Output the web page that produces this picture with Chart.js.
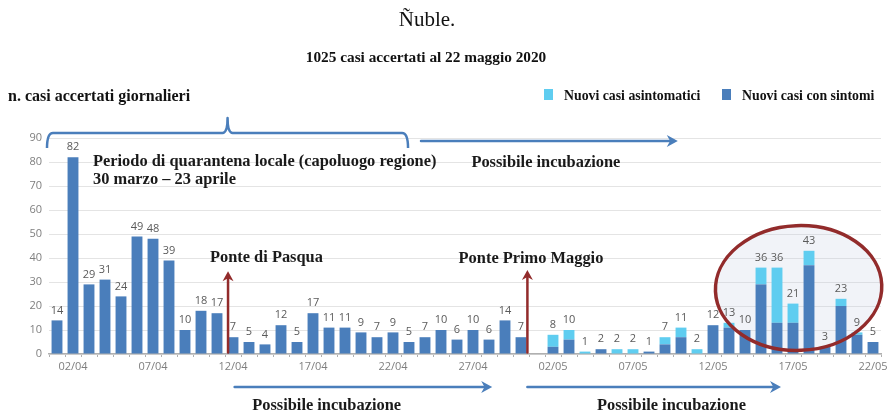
<!DOCTYPE html>
<html>
<head>
<meta charset="utf-8">
<script src="https://cdn.jsdelivr.net/npm/chart.js@4/dist/chart.umd.min.js"></script>
<style>
  html, body { margin: 0; padding: 0; background: #ffffff; }
  #wrap { position: relative; width: 891px; height: 413px; }
</style>
</head>
<body>
<div id="wrap"><canvas id="c" width="891" height="413"></canvas></div>
<script>
// Daily confirmed cases, Ñuble region, 1 April - 22 May 2020
const giorni = [
  '01/04','02/04','03/04','04/04','05/04','06/04','07/04','08/04','09/04','10/04',
  '11/04','12/04','13/04','14/04','15/04','16/04','17/04','18/04','19/04','20/04',
  '21/04','22/04','23/04','24/04','25/04','26/04','27/04','28/04','29/04','30/04',
  '01/05','02/05','03/05','04/05','05/05','06/05','07/05','08/05','09/05','10/05',
  '11/05','12/05','13/05','14/05','15/05','16/05','17/05','18/05','19/05','20/05',
  '21/05','22/05'
];
const conSintomi = [
  14, 82, 29, 31, 24, 49, 48, 39, 10, 18,
  17,  7,  5,  4, 12,  5, 17, 11, 11,  9,
   7,  9,  5,  7, 10,  6, 10,  6, 14,  7,
   0,  3,  6,  0,  2,  0,  0,  1,  4,  7,
   0, 12, 11, 10, 29, 13, 13, 37,  3, 20,
   8,  5
];
const asintomatici = [
   0,  0,  0,  0,  0,  0,  0,  0,  0,  0,
   0,  0,  0,  0,  0,  0,  0,  0,  0,  0,
   0,  0,  0,  0,  0,  0,  0,  0,  0,  0,
   0,  5,  4,  1,  0,  2,  2,  0,  3,  4,
   2,  0,  2,  0,  7, 23,  8,  6,  0,  3,
   1,  0
];
const yTicks = [0, 10, 20, 30, 40, 50, 60, 70, 80, 90];

const BLU = '#4a7ebb';
const AZZURRO = '#5fcdf0';
const ROSSO = '#922b2b';
const SERIF = '"Liberation Serif", "DejaVu Serif", serif';
const SANS = '"Open Sans", "Liberation Sans", sans-serif';

function freccia(ctx, x1, y1, x2, y2, colore, spessore, testa) {
  const a = Math.atan2(y2 - y1, x2 - x1);
  ctx.save();
  ctx.strokeStyle = colore;
  ctx.fillStyle = colore;
  ctx.lineWidth = spessore;
  ctx.lineCap = 'round';
  ctx.beginPath();
  ctx.moveTo(x1, y1);
  ctx.lineTo(x2 - Math.cos(a) * testa * 0.6, y2 - Math.sin(a) * testa * 0.6);
  ctx.stroke();
  ctx.beginPath();
  ctx.moveTo(x2, y2);
  ctx.lineTo(x2 - Math.cos(a) * testa + Math.sin(a) * testa * 0.55,
             y2 - Math.sin(a) * testa - Math.cos(a) * testa * 0.55);
  ctx.lineTo(x2 - Math.cos(a) * testa * 0.7, y2 - Math.sin(a) * testa * 0.7);
  ctx.lineTo(x2 - Math.cos(a) * testa - Math.sin(a) * testa * 0.55,
             y2 - Math.sin(a) * testa + Math.cos(a) * testa * 0.55);
  ctx.closePath();
  ctx.fill();
  ctx.restore();
}

function testo(ctx, s, x, y, font, colore, align) {
  ctx.save();
  ctx.font = font;
  ctx.fillStyle = colore || '#1a1a1a';
  ctx.textAlign = align || 'left';
  ctx.textBaseline = 'middle';
  ctx.fillText(s, x, y);
  ctx.restore();
}

// Highlight ellipse around the mid-May peak
function ellisse(chart, riempi) {
  const xs = chart.scales.x, ys = chart.scales.y, ctx = chart.ctx;
  const passo = xs.getPixelForValue(1) - xs.getPixelForValue(0);
  const cx = xs.getPixelForValue(46.35), cy = ys.getPixelForValue(27.5);
  const rx = passo * 5.2, ry = ys.getPixelForValue(0) - ys.getPixelForValue(26);
  ctx.save();
  ctx.beginPath();
  ctx.ellipse(cx, cy, rx, ry, -0.04, 0, Math.PI * 2);
  if (riempi) {
    ctx.fillStyle = 'rgba(190,200,222,0.22)';
    ctx.fill();
  } else {
    ctx.strokeStyle = ROSSO;
    ctx.lineWidth = 3.5;
    ctx.stroke();
  }
  ctx.restore();
}

const decorazioni = {
  id: 'decorazioni',
  beforeDatasetsDraw(chart) {
    ellisse(chart, true);
  },
  afterDatasetsDraw(chart) {
    const ctx = chart.ctx, ys = chart.scales.y;
    // totals above each stacked bar
    const m0 = chart.getDatasetMeta(0);
    ctx.save();
    ctx.font = '11px ' + SANS;
    ctx.fillStyle = '#5a5a5a';
    ctx.textAlign = 'center';
    ctx.textBaseline = 'middle';
    for (let i = 0; i < giorni.length; i++) {
      const tot = conSintomi[i] + asintomatici[i];
      if (!tot) continue;
      ctx.fillText(String(tot), m0.data[i].x, ys.getPixelForValue(tot) - 10);
    }
    ctx.restore();
  },
  afterDraw(chart) {
    const ctx = chart.ctx, xs = chart.scales.x, ys = chart.scales.y, area = chart.chartArea;
    const X = i => xs.getPixelForValue(i);
    const Y = v => ys.getPixelForValue(v);

    // titles
    testo(ctx, 'Ñuble.', 427, 20, '21px ' + SERIF, '#111', 'center');
    testo(ctx, '1025 casi accertati al 22 maggio 2020', 426, 58, 'bold 15.3px ' + SERIF, '#111', 'center');
    testo(ctx, 'n. casi accertati giornalieri', 8, 97, 'bold 16px ' + SERIF, '#111');

    // legend
    const ds = chart.data.datasets;
    const voci = [
      { d: ds[1], x: 544 },
      { d: ds[0], x: 722 }
    ];
    voci.forEach(v => {
      ctx.fillStyle = v.d.backgroundColor;
      ctx.fillRect(v.x, 89, 9, 11);
      testo(ctx, v.d.label, v.x + 20, 96, 'bold 13.8px ' + SERIF, '#111');
    });

    // quarantine bracket
    const bl = X(-0.625), br = X(21.94), bm = X(10.66);
    const by = Y(92.1), bh = Y(85.8), bt = Y(98.3);
    ctx.save();
    ctx.strokeStyle = BLU;
    ctx.lineWidth = 2.5;
    ctx.lineJoin = 'round';
    ctx.beginPath();
    ctx.moveTo(bl, bh);
    ctx.quadraticCurveTo(bl, by, bl + 6, by);
    ctx.lineTo(bm - 5, by);
    ctx.quadraticCurveTo(bm, by, bm, bt);
    ctx.quadraticCurveTo(bm, by, bm + 5, by);
    ctx.lineTo(br - 6, by);
    ctx.quadraticCurveTo(br, by, br, bh);
    ctx.stroke();
    ctx.restore();

    const fA = 'bold 16.4px ' + SERIF;
    freccia(ctx, X(22.75), Y(88.75), X(38.8), Y(88.75), BLU, 2.5, 11);
    testo(ctx, 'Periodo di quarantena locale (capoluogo regione)', X(2.25), Y(80.1), fA, '#1a1a1a');
    testo(ctx, '30 marzo \u2013 23 aprile', X(2.25), Y(72.5), fA, '#1a1a1a');
    testo(ctx, 'Possibile incubazione', X(25.9), Y(79.6), fA, '#1a1a1a');

    // holiday markers
    testo(ctx, 'Ponte di Pasqua', X(9.56), Y(40.3), fA, '#1a1a1a');
    freccia(ctx, X(10.69), Y(0.6), X(10.69), Y(34.5), ROSSO, 2.5, 10);
    testo(ctx, 'Ponte Primo Maggio', X(25.1), Y(39.7), fA, '#1a1a1a');
    freccia(ctx, X(29.4), Y(0.6), X(29.4), Y(35), ROSSO, 2.5, 10);

    // incubation arrows below the axis
    const ya = area.bottom + 33, yt = area.bottom + 52;
    freccia(ctx, X(11.1), ya, X(27.2), ya, BLU, 2.5, 11);
    testo(ctx, 'Possibile incubazione', X(12.2), yt, fA, '#1a1a1a');
    freccia(ctx, X(29.4), ya, X(45.25), ya, BLU, 2.5, 11);
    testo(ctx, 'Possibile incubazione', X(33.75), yt, fA, '#1a1a1a');

    ellisse(chart, false);
  }
};

new Chart(document.getElementById('c'), {
  type: 'bar',
  data: {
    labels: giorni,
    datasets: [
      { label: 'Nuovi casi con sintomi', data: conSintomi, backgroundColor: BLU, stack: 's' },
      { label: 'Nuovi casi asintomatici', data: asintomatici, backgroundColor: AZZURRO, stack: 's' }
    ]
  },
  options: {
    responsive: false,
    animation: false,
    events: [],
    layout: { padding: { left: 0, right: 10, top: 138, bottom: 0 } },
    datasets: { bar: { barPercentage: 0.68, categoryPercentage: 1.0 } },
    plugins: { legend: { display: false }, tooltip: { enabled: false } },
    scales: {
      x: {
        stacked: true,
        afterFit(s) { s.height = 59; },
        border: { display: true, color: '#b0b0b0', width: 1.5 },
        grid: { display: true, drawOnChartArea: false, drawTicks: true, tickLength: 3, color: '#b0b0b0', offset: true },
        ticks: {
          autoSkip: false, maxRotation: 0, padding: 3,
          color: '#7f7f7f', font: { family: SANS, size: 11 },
          callback(v, i) { return i % 5 === 1 ? giorni[i] : ''; }
        }
      },
      y: {
        stacked: true,
        min: 0, max: 90,
        afterFit(s) { s.width = 49; },
        afterBuildTicks(s) { s.ticks = yTicks.map(v => ({ value: v })); },
        border: { display: false },
        grid: { color: '#e4e4e4', drawTicks: false, lineWidth: 1 },
        ticks: { padding: 7, color: '#7f7f7f', font: { family: SANS, size: 11 } }
      }
    }
  },
  plugins: [decorazioni]
});
</script>
</body>
</html>
